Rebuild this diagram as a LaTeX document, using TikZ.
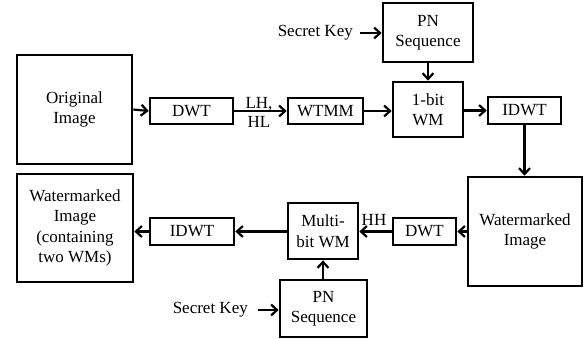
\documentclass[tikz,border=0pt]{standalone}
\usepackage{fontspec}
\setmainfont{Liberation Serif}
\usetikzlibrary{arrows.meta}
\begin{document}
\begin{tikzpicture}[x=1pt,y=-1pt,
  box/.style={draw, line width=2.6pt, inner sep=0pt, align=center, font=\fontsize{17}{20.5}\selectfont},
  lbl/.style={inner sep=0pt, align=center, font=\fontsize{17}{19}\selectfont},
  arr/.style={line width=2.2pt, -{Straight Barb[length=6pt,width=11pt,line width=2.2pt]}}]
\useasboundingbox (0,0) rectangle (584,339);
% top row
\node[box, minimum width=115pt, minimum height=109pt] (orig) at (74.5,109.5) {Original\\Image};
\node[box, minimum width=83pt, minimum height=26pt] (dwta) at (191.5,111) {DWT};
\node[box, minimum width=75pt, minimum height=26pt] (wtmm) at (325.5,111) {WTMM};
\node[box, minimum width=70pt, minimum height=55pt] (onebit) at (428,109.5) {1-bit\\WM};
\node[box, minimum width=90pt, minimum height=59pt] (pna) at (428,32.5) {PN\\Sequence};
\node[box, minimum width=73pt, minimum height=27pt] (idwta) at (524.5,110.5) {IDWT};
\node[lbl, anchor=east] (keya) at (353,33) {Secret Key};
\node[lbl] (lhhl) at (259,112) {LH,\\HL};
% bottom row
\node[box, minimum width=114pt, minimum height=109pt] (wmimg) at (525,231.5) {Watermarked\\Image};
\node[box, minimum width=63pt, minimum height=27pt] (dwtb) at (424.5,231.5) {DWT};
\node[box, minimum width=70pt, minimum height=56pt] (multi) at (323,231) {Multi-\\bit WM};
\node[box, minimum width=87pt, minimum height=57pt] (pnb) at (323.5,308.5) {PN\\Sequence};
\node[box, minimum width=84pt, minimum height=27pt] (idwtb) at (192,231.5) {IDWT};
\node[box, minimum width=116pt, minimum height=108pt] (final) at (75,228) {Watermarked\\Image\\(containing\\two WMs)};
\node[lbl, anchor=east] (keyb) at (248,310) {Secret Key};
\node[lbl, anchor=south] (hh) at (374,226) {HH};
% connectors
\draw[arr] (orig.east) -- (dwta.west);
\draw[arr] (dwta.east) -- (wtmm.west);
\draw[arr] (wtmm.east) -- (onebit.west |- wtmm.east);
\draw[arr] ([xshift=7pt]keya.east) -- (pna.west |- keya.east);
\draw[arr] (pna.south) -- (onebit.north);
\draw[arr] (onebit.east |- idwta.west) -- (idwta.west);
\draw[arr] (idwta.south) -- (wmimg.north -| idwta.south);
\draw[arr] (wmimg.west) -- (dwtb.east);
\draw[arr] (dwtb.west) -- (multi.east |- dwtb.west);
\draw[arr] (pnb.north -| multi.south) -- (multi.south);
\draw[arr] ([xshift=10pt]keyb.east) -- (pnb.west |- keyb.east);
\draw[arr] (multi.west |- idwtb.east) -- (idwtb.east);
\draw[arr] (idwtb.west) -- (final.east |- idwtb.west);
\end{tikzpicture}
\end{document}
